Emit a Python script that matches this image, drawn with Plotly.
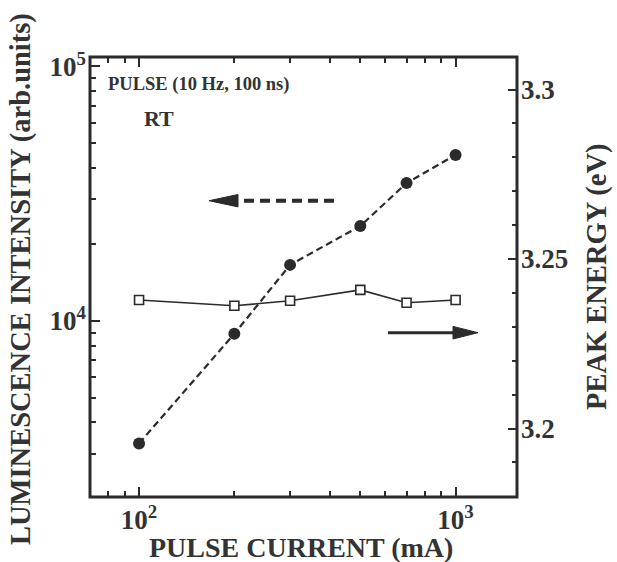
import plotly.graph_objects as go

# ---- data ----
current_mA = [100, 200, 300, 500, 700, 1000]
intensity = [3300, 8900, 16600, 23600, 34800, 44900]
peak_energy = [3.2379, 3.2362, 3.2377, 3.2409, 3.2371, 3.2379]

x_tickvals = [100, 1000]
x_ticktext = ["10<sup>2</sup>", "10<sup>3</sup>"]
x_minor = [70, 80, 90, 200, 300, 400, 500, 600, 700, 800, 900]
y_tickvals = [1e4, 1e5]
y_ticktext = ["10<sup>4</sup>", "10<sup>5</sup>"]
y_minor = [3000, 4000, 5000, 6000, 7000, 8000, 9000,
           20000, 30000, 40000, 50000, 60000, 70000, 80000, 90000]
y2_tickvals = [3.2, 3.25, 3.3]
y2_ticktext = ["3.2", "3.25", "3.3"]
y2_minor = [3.18, 3.19, 3.21, 3.22, 3.23, 3.24, 3.26, 3.27, 3.28, 3.29, 3.30]

W, H = 617, 562
L, R, T, B = 90, 517, 57, 497
INK = "#2b2b2b"
TXT = "#333333"
SERIF = "Liberation Serif"
X_RANGE = [1.845, 3.194]


def px(x):
    return (x - L) / (R - L)


def py(y):
    return (B - y) / (B - T)


fig = go.Figure()
fig.add_trace(go.Scatter(
    x=current_mA, y=intensity, mode="lines+markers", yaxis="y",
    line=dict(color=INK, width=2.2, dash="7px,4px"),
    marker=dict(symbol="circle", size=12, color=INK),
    showlegend=False))
fig.add_trace(go.Scatter(
    x=current_mA, y=peak_energy, mode="lines+markers", yaxis="y2",
    line=dict(color=INK, width=1.6),
    marker=dict(symbol="square", size=9, color="white",
                line=dict(color=INK, width=1.6)),
    showlegend=False))

tickfont = dict(family=SERIF, size=27, color=TXT, weight="bold")
common = dict(showgrid=False, zeroline=False, showline=False,
              ticks="inside", tickwidth=2, tickcolor=INK)

fig.update_layout(
    width=W, height=H,
    margin=dict(l=L, r=W - R, t=T, b=H - B, autoexpand=False),
    paper_bgcolor="white", plot_bgcolor="white",
    xaxis=dict(type="log", range=X_RANGE,
               tickmode="array", tickvals=x_tickvals, ticktext=x_ticktext,
               ticklen=10,
               minor=dict(tickmode="array", tickvals=x_minor, ticks="inside",
                          ticklen=6, tickwidth=2, tickcolor=INK),
               tickfont=tickfont, ticklabelstandoff=4, **common),
    xaxis2=dict(type="log", range=X_RANGE, overlaying="x", side="top",
                anchor="y", tickmode="array", tickvals=x_tickvals,
                showticklabels=False, ticklen=10,
                minor=dict(tickmode="array", tickvals=x_minor, ticks="inside",
                           ticklen=6, tickwidth=2, tickcolor=INK),
                **common),
    yaxis=dict(type="log", range=[3.308, 5.037],
               tickmode="array", tickvals=y_tickvals, ticktext=y_ticktext,
               ticklen=10,
               minor=dict(tickmode="array", tickvals=y_minor, ticks="inside",
                          ticklen=6, tickwidth=2, tickcolor=INK),
               tickfont=tickfont, ticklabelstandoff=3, **common),
    yaxis2=dict(overlaying="y", side="right", range=[3.1798, 3.3096],
                tickmode="array", tickvals=y2_tickvals, ticktext=y2_ticktext,
                ticklen=9,
                minor=dict(tickmode="array", tickvals=y2_minor, ticks="inside",
                           ticklen=5, tickwidth=2, tickcolor=INK),
                tickfont=tickfont, ticklabelstandoff=3, **common),
)

# invisible trace to activate the top axis
fig.add_trace(go.Scatter(x=[current_mA[0]], y=[intensity[0]], xaxis="x2",
                         yaxis="y", mode="markers", opacity=0,
                         hoverinfo="skip", showlegend=False))

# plot frame
fig.add_shape(type="rect", xref="paper", yref="paper", x0=0, y0=0, x1=1, y1=1,
              line=dict(color=INK, width=3), layer="above")

title_font = dict(family=SERIF, size=28, color=TXT, weight="bold")
ann = [
    dict(text="PULSE CURRENT (mA)", x=px(301), y=py(547.5), textangle=0,
         font=title_font),
    dict(text="LUMINESCENCE INTENSITY (arb.units)", x=px(21), y=py(279),
         textangle=-90, font=dict(title_font, size=28.5)),
    dict(text="PEAK ENERGY (eV)", x=px(597), y=py(277), textangle=-90,
         font=dict(title_font, size=28.5)),
]
for a in ann:
    fig.add_annotation(xref="paper", yref="paper", showarrow=False,
                       xanchor="center", yanchor="middle", **a)

fig.add_annotation(xref="paper", yref="paper", showarrow=False,
                   x=px(106), y=py(85), xanchor="left", yanchor="middle",
                   text="PULSE (10 Hz, 100 ns)",
                   font=dict(family=SERIF, size=18.5, color=TXT, weight="bold"))
fig.add_annotation(xref="paper", yref="paper", showarrow=False,
                   x=px(142), y=py(118), xanchor="left", yanchor="middle",
                   text="RT",
                   font=dict(family=SERIF, size=22, color=TXT, weight="bold"))


def tri(tip_x, base_x, yc, half):
    return (f"M {px(tip_x)},{py(yc)} L {px(base_x)},{py(yc - half)} "
            f"L {px(base_x)},{py(yc + half)} Z")


# dashed arrow pointing left (toward left axis)
fig.add_shape(type="line", xref="paper", yref="paper",
              x0=px(334), y0=py(200.7), x1=px(236), y1=py(200.7),
              line=dict(color=INK, width=4, dash="10px,6px"))
fig.add_shape(type="path", xref="paper", yref="paper",
              path=tri(209, 238, 200.7, 6.2), fillcolor=INK,
              line=dict(color=INK, width=1))
# solid arrow pointing right (toward right axis)
fig.add_shape(type="line", xref="paper", yref="paper",
              x0=px(388), y0=py(332.7), x1=px(455), y1=py(332.7),
              line=dict(color=INK, width=3))
fig.add_shape(type="path", xref="paper", yref="paper",
              path=tri(478, 453, 332.7, 6.3), fillcolor=INK,
              line=dict(color=INK, width=1))

fig.write_html("out.html", config={"displayModeBar": False},
               post_script="document.body.style.margin='0';"
                           "document.body.style.padding='0';")
